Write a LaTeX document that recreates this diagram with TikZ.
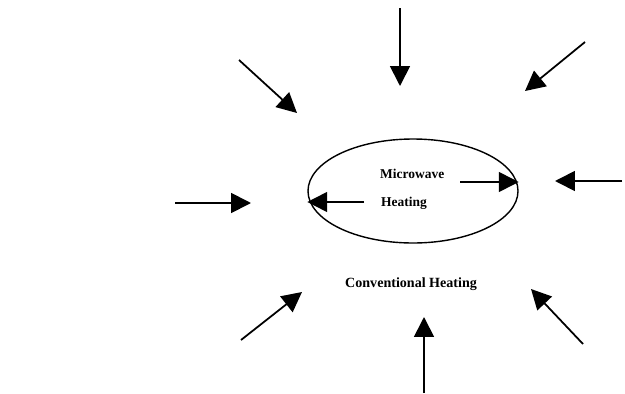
\documentclass[tikz,border=0pt]{standalone}
\usepackage{fontspec}
\setmainfont{Liberation Serif}
\usetikzlibrary{arrows.meta, shapes.geometric}

\begin{document}
\begin{tikzpicture}[x=0.03cm, y=-0.03cm,
    heat/.style={-{Triangle[length=17pt, width=17pt]}, line width=1.5pt},
    word/.style={font=\bfseries\fontsize{11.5}{13}\selectfont, inner sep=0pt, anchor=west}]
    \useasboundingbox (0,0) rectangle (625,393);

    % microwave zone
    \node [draw, ellipse, line width=1.2pt, inner sep=0pt,
           minimum width=6.3cm, minimum height=3.12cm] (zone) at (413, 191) {};
    \node [word] (micro) at (380, 174) {Microwave};
    \node [word] (heat) at (381, 203) {Heating};
    \node [word, font=\bfseries\fontsize{12}{14}\selectfont] (conv) at (345, 284) {Conventional Heating};

    % outer sources
    \coordinate (top) at (400, 8);
    \coordinate (topL) at (239, 60);
    \coordinate (topR) at (585, 42);
    \coordinate (left) at (175, 203);
    \coordinate (right) at (622, 181);
    \coordinate (botL) at (241, 340);
    \coordinate (bot) at (424, 393);
    \coordinate (botR) at (583, 344);

    % outer targets
    \coordinate (topT) at (400, 86);
    \coordinate (topLT) at (297, 113);
    \coordinate (topRT) at (525, 91);
    \coordinate (leftT) at (251, 203);
    \coordinate (rightT) at (555, 181);
    \coordinate (botLT) at (302, 292);
    \coordinate (botT) at (424, 317);
    \coordinate (botRT) at (531, 289);

    \draw [heat] (top) -- (topT);
    \draw [heat] (topL) -- (topLT);
    \draw [heat] (topR) -- (topRT);
    \draw [heat] (left) -- (leftT);
    \draw [heat] (right) -- (rightT);
    \draw [heat] (botL) -- (botLT);
    \draw [heat] (bot) -- (botT);
    \draw [heat] (botR) -- (botRT);

    % from inside out
    \coordinate (inR) at (460, 182);
    \coordinate (inL) at (364, 202);
    \draw [heat] (inR) -- (inR -| zone.east);
    \draw [heat] (inL) -- (inL -| zone.west);
\end{tikzpicture}
\end{document}
